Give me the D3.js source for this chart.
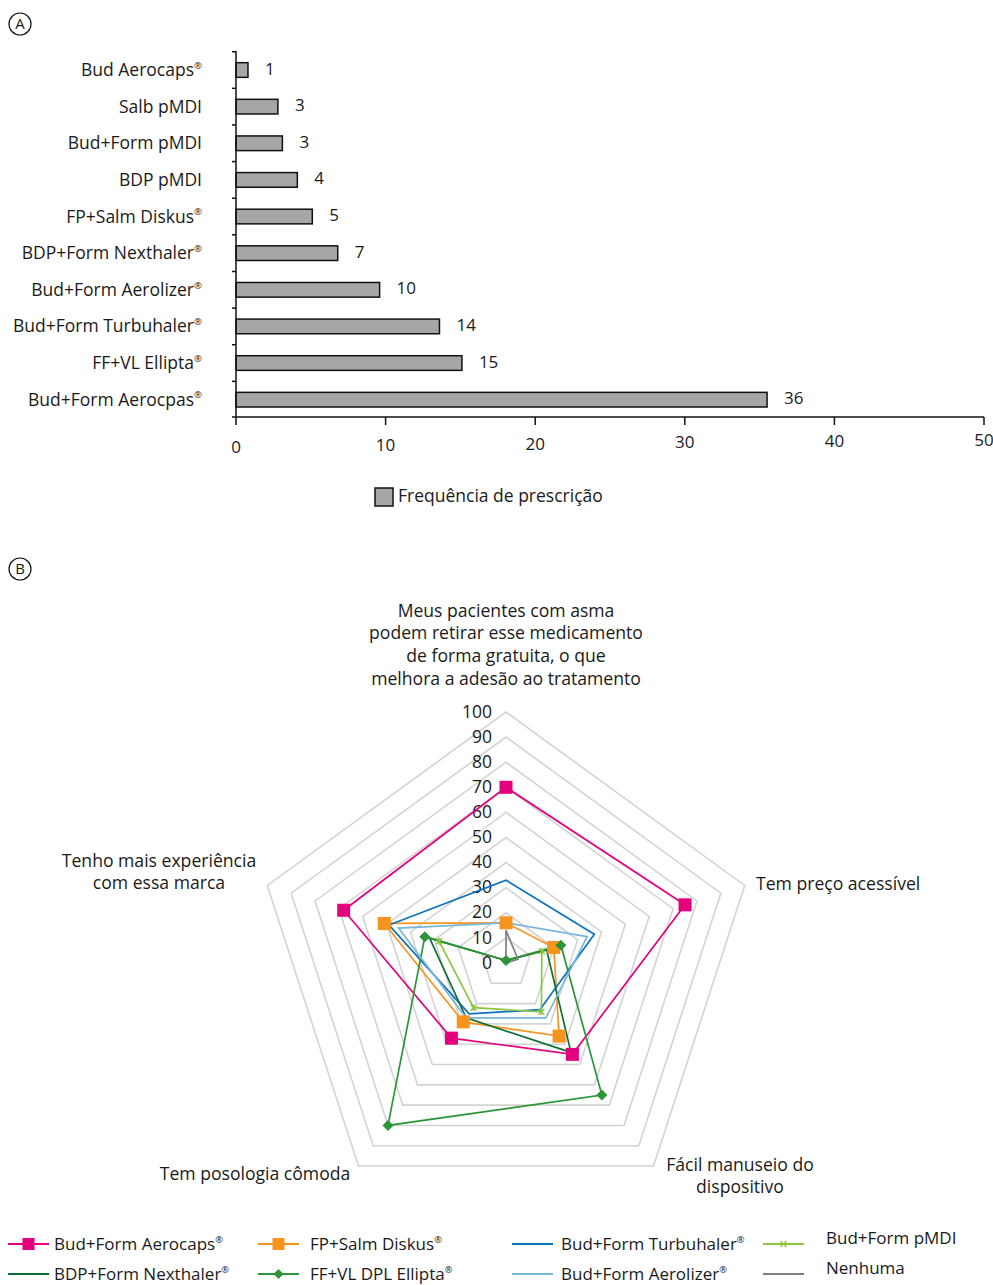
<!DOCTYPE html>
<html>
<head>
<meta charset="utf-8">
<script src="https://cdn.jsdelivr.net/npm/d3@7/dist/d3.min.js"></script>
<style>
  html, body { margin: 0; padding: 0; background: #fff; }
  svg { display: block; }
  text { font-family: "Open Sans", "Liberation Sans", sans-serif; fill: #1a1a1a; }
</style>
</head>
<body>
<svg id="chart" width="993" height="1285"></svg>
<script>
// ---------- Data: panel A ----------
const barCategories = ["Bud Aerocaps®", "Salb pMDI", "Bud+Form pMDI", "BDP pMDI", "FP+Salm Diskus®",
  "BDP+Form Nexthaler®", "Bud+Form Aerolizer®", "Bud+Form Turbuhaler®", "FF+VL Ellipta®", "Bud+Form Aerocpas®"];
const barValues = [0.8, 2.8, 3.1, 4.1, 5.1, 6.8, 9.6, 13.6, 15.1, 35.5];
const barLabels = ["1", "3", "3", "4", "5", "7", "10", "14", "15", "36"];
const barTicks = [0, 10, 20, 30, 40, 50];
const barLegend = "Frequência de prescrição";

// ---------- Data: panel B ----------
const radarAxes = [
  ["Meus pacientes com asma", "podem retirar esse medicamento", "de forma gratuita, o que", "melhora a adesão ao tratamento"],
  ["Tem preço acessível"],
  ["Fácil manuseio do", "dispositivo"],
  ["Tem posologia cômoda"],
  ["Tenho mais experiência", "com essa marca"]
];
const radarTicks = [0, 10, 20, 30, 40, 50, 60, 70, 80, 90, 100];
const seriesNames = ["Bud+Form Aerocaps®", "FP+Salm Diskus®", "Bud+Form Turbuhaler®", "Bud+Form pMDI",
  "BDP+Form Nexthaler®", "FF+VL DPL Ellipta®", "Bud+Form Aerolizer®", "Nenhuma"];
const aerocaps   = [70, 75, 45, 37, 68];
const diskus     = [16, 20, 36, 29, 51];
const turbuhaler = [33, 37, 23, 25, 49];
const pmdi       = [1, 15, 24, 22, 28];
const nexthaler  = [1, 17, 44, 27, 32];
const ellipta    = [1, 23, 65, 80, 34];
const aerolizer  = [16, 34, 27, 27, 45];
const nenhuma    = [13, 5, 0, 0, 0];
const seriesValues = [aerocaps, diskus, turbuhaler, pmdi, nexthaler, ellipta, aerolizer, nenhuma];
const seriesColors = ["#e5007d", "#f7941d", "#0a72bd", "#8cc63f", "#0f6e35", "#2b9539", "#78b6dc", "#808080"];
const seriesMarkers = ["square", "square", "none", "x", "none", "diamond", "none", "none"];

const svg = d3.select("#chart");

// helper: text with ® as superscript
function regText(sel, str, size) {
  const parts = str.split("®");
  parts.forEach((p, i) => {
    if (p.length) sel.append("tspan").text(p);
    if (i < parts.length - 1) {
      sel.append("tspan").attr("font-size", size * 0.55).attr("dy", -size * 0.3).text("®");
      sel.append("tspan").attr("dy", size * 0.3).text("");
    }
  });
}

// panel markers
function panelLabel(cx, cy, t) {
  svg.append("circle").attr("cx", cx).attr("cy", cy).attr("r", 11)
    .attr("fill", "none").attr("stroke", "#111").attr("stroke-width", 1.2);
  svg.append("text").attr("x", cx).attr("y", cy + 0.5).attr("text-anchor", "middle")
    .attr("dominant-baseline", "middle").attr("font-size", 15).text(t);
}
panelLabel(20, 24, "A");
panelLabel(20, 569, "B");

// ---------- Panel A: bar chart ----------
const x = d3.scaleLinear().domain([0, 50]).range([236, 984]);
const y = d3.scaleBand().domain(barCategories).range([51.7, 418]).paddingInner(0.6).paddingOuter(0.3);
const gA = svg.append("g");

gA.selectAll("rect.bar").data(barValues).join("rect")
  .attr("x", x(0)).attr("y", (d, i) => y(barCategories[i]))
  .attr("width", d => x(d) - x(0)).attr("height", y.bandwidth())
  .attr("fill", "#a6a6a6").attr("stroke", "#111").attr("stroke-width", 1.5);

gA.selectAll("text.val").data(barValues).join("text")
  .attr("x", d => x(d) + 17).attr("y", (d, i) => y(barCategories[i]) + y.bandwidth() / 2)
  .attr("dominant-baseline", "middle").attr("font-size", 17)
  .text((d, i) => barLabels[i]);

barCategories.forEach((c) => {
  const t = gA.append("text").attr("x", 202).attr("y", y(c) + y.bandwidth() / 2 + 1)
    .attr("text-anchor", "end").attr("dominant-baseline", "middle").attr("font-size", 17.5);
  regText(t, c, 17.5);
});

// y axis line & ticks at category boundaries
const step = y.step();
const gap = (step - y.bandwidth()) / 2;
gA.append("line").attr("x1", x(0)).attr("x2", x(0)).attr("y1", 51).attr("y2", 417)
  .attr("stroke", "#111").attr("stroke-width", 1.5);
const bounds = barCategories.map(c => y(c) - gap).concat([y(barCategories[barCategories.length - 1]) + y.bandwidth() + gap]);
gA.selectAll("line.yt").data(bounds).join("line")
  .attr("x1", x(0) - 4).attr("x2", x(0)).attr("y1", d => Math.min(d, 417)).attr("y2", d => Math.min(d, 417))
  .attr("stroke", "#111").attr("stroke-width", 1.5);

// x axis
gA.append("line").attr("x1", x(0)).attr("x2", x(50)).attr("y1", 417).attr("y2", 417)
  .attr("stroke", "#111").attr("stroke-width", 1.5);
gA.selectAll("line.xt").data(barTicks).join("line")
  .attr("x1", d => x(d)).attr("x2", d => x(d)).attr("y1", 417).attr("y2", 425)
  .attr("stroke", "#111").attr("stroke-width", 1.5);
gA.selectAll("text.xt").data(barTicks).join("text")
  .attr("x", d => x(d)).attr("y", (d, i) => 448 - i * 1.4)
  .attr("text-anchor", "middle").attr("dominant-baseline", "middle").attr("font-size", 17)
  .text(d => d);

// legend A
gA.append("rect").attr("x", 375).attr("y", 488).attr("width", 18).attr("height", 18)
  .attr("fill", "#a6a6a6").attr("stroke", "#111").attr("stroke-width", 1.5);
gA.append("text").attr("x", 398).attr("y", 497).attr("dominant-baseline", "middle")
  .attr("font-size", 17.5).text(barLegend);

// ---------- Panel B: radar chart ----------
const cx = 506, cy = 963;
const r = d3.scaleLinear().domain([0, 100]).range([0, 251]);
const ang = i => i * 2 * Math.PI / radarAxes.length;
const pt = (i, v) => [cx + r(v) * Math.sin(ang(i)), cy - r(v) * Math.cos(ang(i))];
const gB = svg.append("g");
const lineGen = d3.line().curve(d3.curveLinearClosed);

// rings
gB.selectAll("path.ring").data(radarTicks.filter(t => t > 0)).join("path")
  .attr("d", t => lineGen(radarAxes.map((a, i) => pt(i, t))))
  .attr("fill", "none").attr("stroke", "#d3d3d3").attr("stroke-width", 1.6);

// tick labels
gB.selectAll("text.rt").data(radarTicks).join("text")
  .attr("x", 492).attr("y", t => cy - r(t) + 1)
  .attr("text-anchor", "end").attr("dominant-baseline", "middle").attr("font-size", 17.5)
  .text(t => t);

// series
seriesValues.forEach((vals, s) => {
  const pts = vals.map((v, i) => pt(i, v));
  gB.append("path").attr("d", lineGen(pts)).attr("fill", "none")
    .attr("stroke", seriesColors[s]).attr("stroke-width", 1.7).attr("stroke-linejoin", "miter");
});
seriesValues.forEach((vals, s) => {
  const pts = vals.map((v, i) => pt(i, v));
  const m = seriesMarkers[s];
  if (m === "square") {
    gB.selectAll(null).data(pts).join("rect")
      .attr("x", d => d[0] - 6.5).attr("y", d => d[1] - 6.5).attr("width", 13).attr("height", 13)
      .attr("fill", seriesColors[s]);
  } else if (m === "diamond") {
    gB.selectAll(null).data(pts).join("path")
      .attr("d", d => `M${d[0]},${d[1] - 5.5}L${d[0] + 5.5},${d[1]}L${d[0]},${d[1] + 5.5}L${d[0] - 5.5},${d[1]}Z`)
      .attr("fill", seriesColors[s]);
  } else if (m === "x") {
    gB.selectAll(null).data(pts).join("path")
      .attr("d", d => `M${d[0] - 3},${d[1] - 3}L${d[0] + 3},${d[1] + 3}M${d[0] + 3},${d[1] - 3}L${d[0] - 3},${d[1] + 3}M${d[0]},${d[1] - 3.5}L${d[0]},${d[1] + 3.5}`)
      .attr("stroke", seriesColors[s]).attr("stroke-width", 1.4);
  }
});

// axis labels
const labelPos = [
  { x: 506, y: 612, anchor: "middle" },
  { x: 756, y: 885, anchor: "start" },
  { x: 740, y: 1166, anchor: "middle" },
  { x: 255, y: 1175, anchor: "middle" },
  { x: 159, y: 862, anchor: "middle" }
];
radarAxes.forEach((lines, i) => {
  lines.forEach((ln, j) => {
    gB.append("text").attr("x", labelPos[i].x).attr("y", labelPos[i].y + j * 22.7)
      .attr("text-anchor", labelPos[i].anchor).attr("dominant-baseline", "middle")
      .attr("font-size", 17.6).text(ln);
  });
});

// legend B
const legCols = [8, 258, 512, 763];
const legTextX = [54, 310, 561, 826];
const legRows = [1244, 1274];
seriesNames.forEach((name, s) => {
  const col = s % 4, row = Math.floor(s / 4);
  const lx = legCols[col], ly = legRows[row];
  const g = gB.append("g");
  g.append("line").attr("x1", lx).attr("x2", lx + 41).attr("y1", ly).attr("y2", ly)
    .attr("stroke", seriesColors[s]).attr("stroke-width", 1.8);
  const mx = lx + 20.5, m = seriesMarkers[s];
  if (m === "square") {
    g.append("rect").attr("x", mx - 6).attr("y", ly - 6).attr("width", 12).attr("height", 12).attr("fill", seriesColors[s]);
  } else if (m === "diamond") {
    g.append("path").attr("d", `M${mx},${ly - 5}L${mx + 5},${ly}L${mx},${ly + 5}L${mx - 5},${ly}Z`).attr("fill", seriesColors[s]);
  } else if (m === "x") {
    g.append("path").attr("d", `M${mx - 3},${ly - 3}L${mx + 3},${ly + 3}M${mx + 3},${ly - 3}L${mx - 3},${ly + 3}`)
      .attr("stroke", seriesColors[s]).attr("stroke-width", 1.3);
  }
  const ty = col === 3 ? ly - 5 : ly + 1;
  const t = g.append("text").attr("x", legTextX[col]).attr("y", ty)
    .attr("dominant-baseline", "middle").attr("font-size", 17);
  regText(t, name, 17);
});
</script>
</body>
</html>
